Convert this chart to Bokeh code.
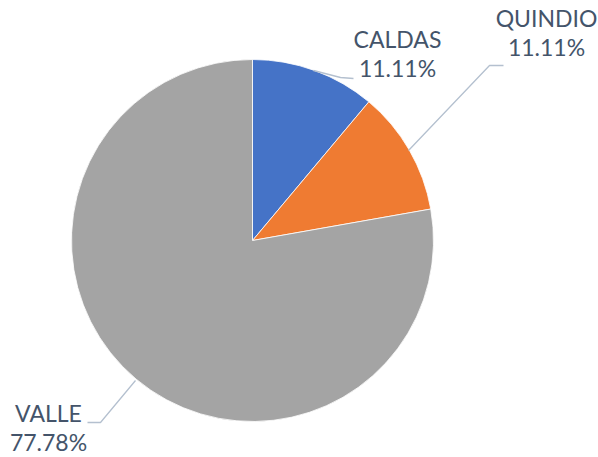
import math
from bokeh.plotting import figure
from bokeh.models import Range1d, ColumnDataSource
from bokeh.core.properties import value
from bokeh.embed import file_html
from bokeh.resources import INLINE

categories = ["CALDAS", "QUINDIO", "VALLE"]
percents = [11.11, 11.11, 77.78]
colors = ["#4573C7", "#EF7B32", "#A4A4A4"]

# layout (screen-like coordinates: x = px, y = 457 - py)
W, H = 598, 457
cx, cy, r = 252, 457 - 240, 181
label_pos = {"CALDAS": (397, 457 - 38), "QUINDIO": (546, 457 - 17), "VALLE": (48, 457 - 412)}
line_gap = 29
leaders = {
    "CALDAS": ([313, 340, 353], [70, 77, 78]),
    "QUINDIO": ([408, 489, 503], [150, 65, 65]),
    "VALLE": ([135, 100, 87], [380, 422, 422]),
}

p = figure(width=W, height=H, output_backend="svg", toolbar_location=None,
           x_range=Range1d(0, W), y_range=Range1d(0, H),
           min_border=0)
p.axis.visible = False
p.grid.visible = False
p.outline_line_color = None

total = sum(percents)
starts, ends = [], []
a = math.pi / 2
for v in percents:
    starts.append(a)
    a -= v / total * 2 * math.pi
    ends.append(a)

src = ColumnDataSource(dict(cat=categories, val=percents, start=starts, end=ends, color=colors))
p.wedge(x=cx, y=cy, radius=r, start_angle="start", end_angle="end", direction="clock",
        fill_color="color", line_color="white", line_width=0.8, source=src)

for cat in categories:
    xs, ys = leaders[cat]
    p.line(xs, [457 - y for y in ys], line_color="#B4C0CF", line_width=1.3)

lx = [label_pos[c][0] for c in categories]
ly = [label_pos[c][1] for c in categories]
p.text(x=lx, y=ly, text=categories, text_align="center", text_baseline="alphabetic",
       text_font=value("Lato"), text_font_size="23px", text_color="#44546A")
p.text(x=lx, y=[y - line_gap for y in ly], text=[f"{v:.2f}%" for v in percents],
       text_align="center", text_baseline="alphabetic",
       text_font=value("Lato"), text_font_size="23px", text_color="#44546A")

open("out.html", "w").write(file_html(p, INLINE))
